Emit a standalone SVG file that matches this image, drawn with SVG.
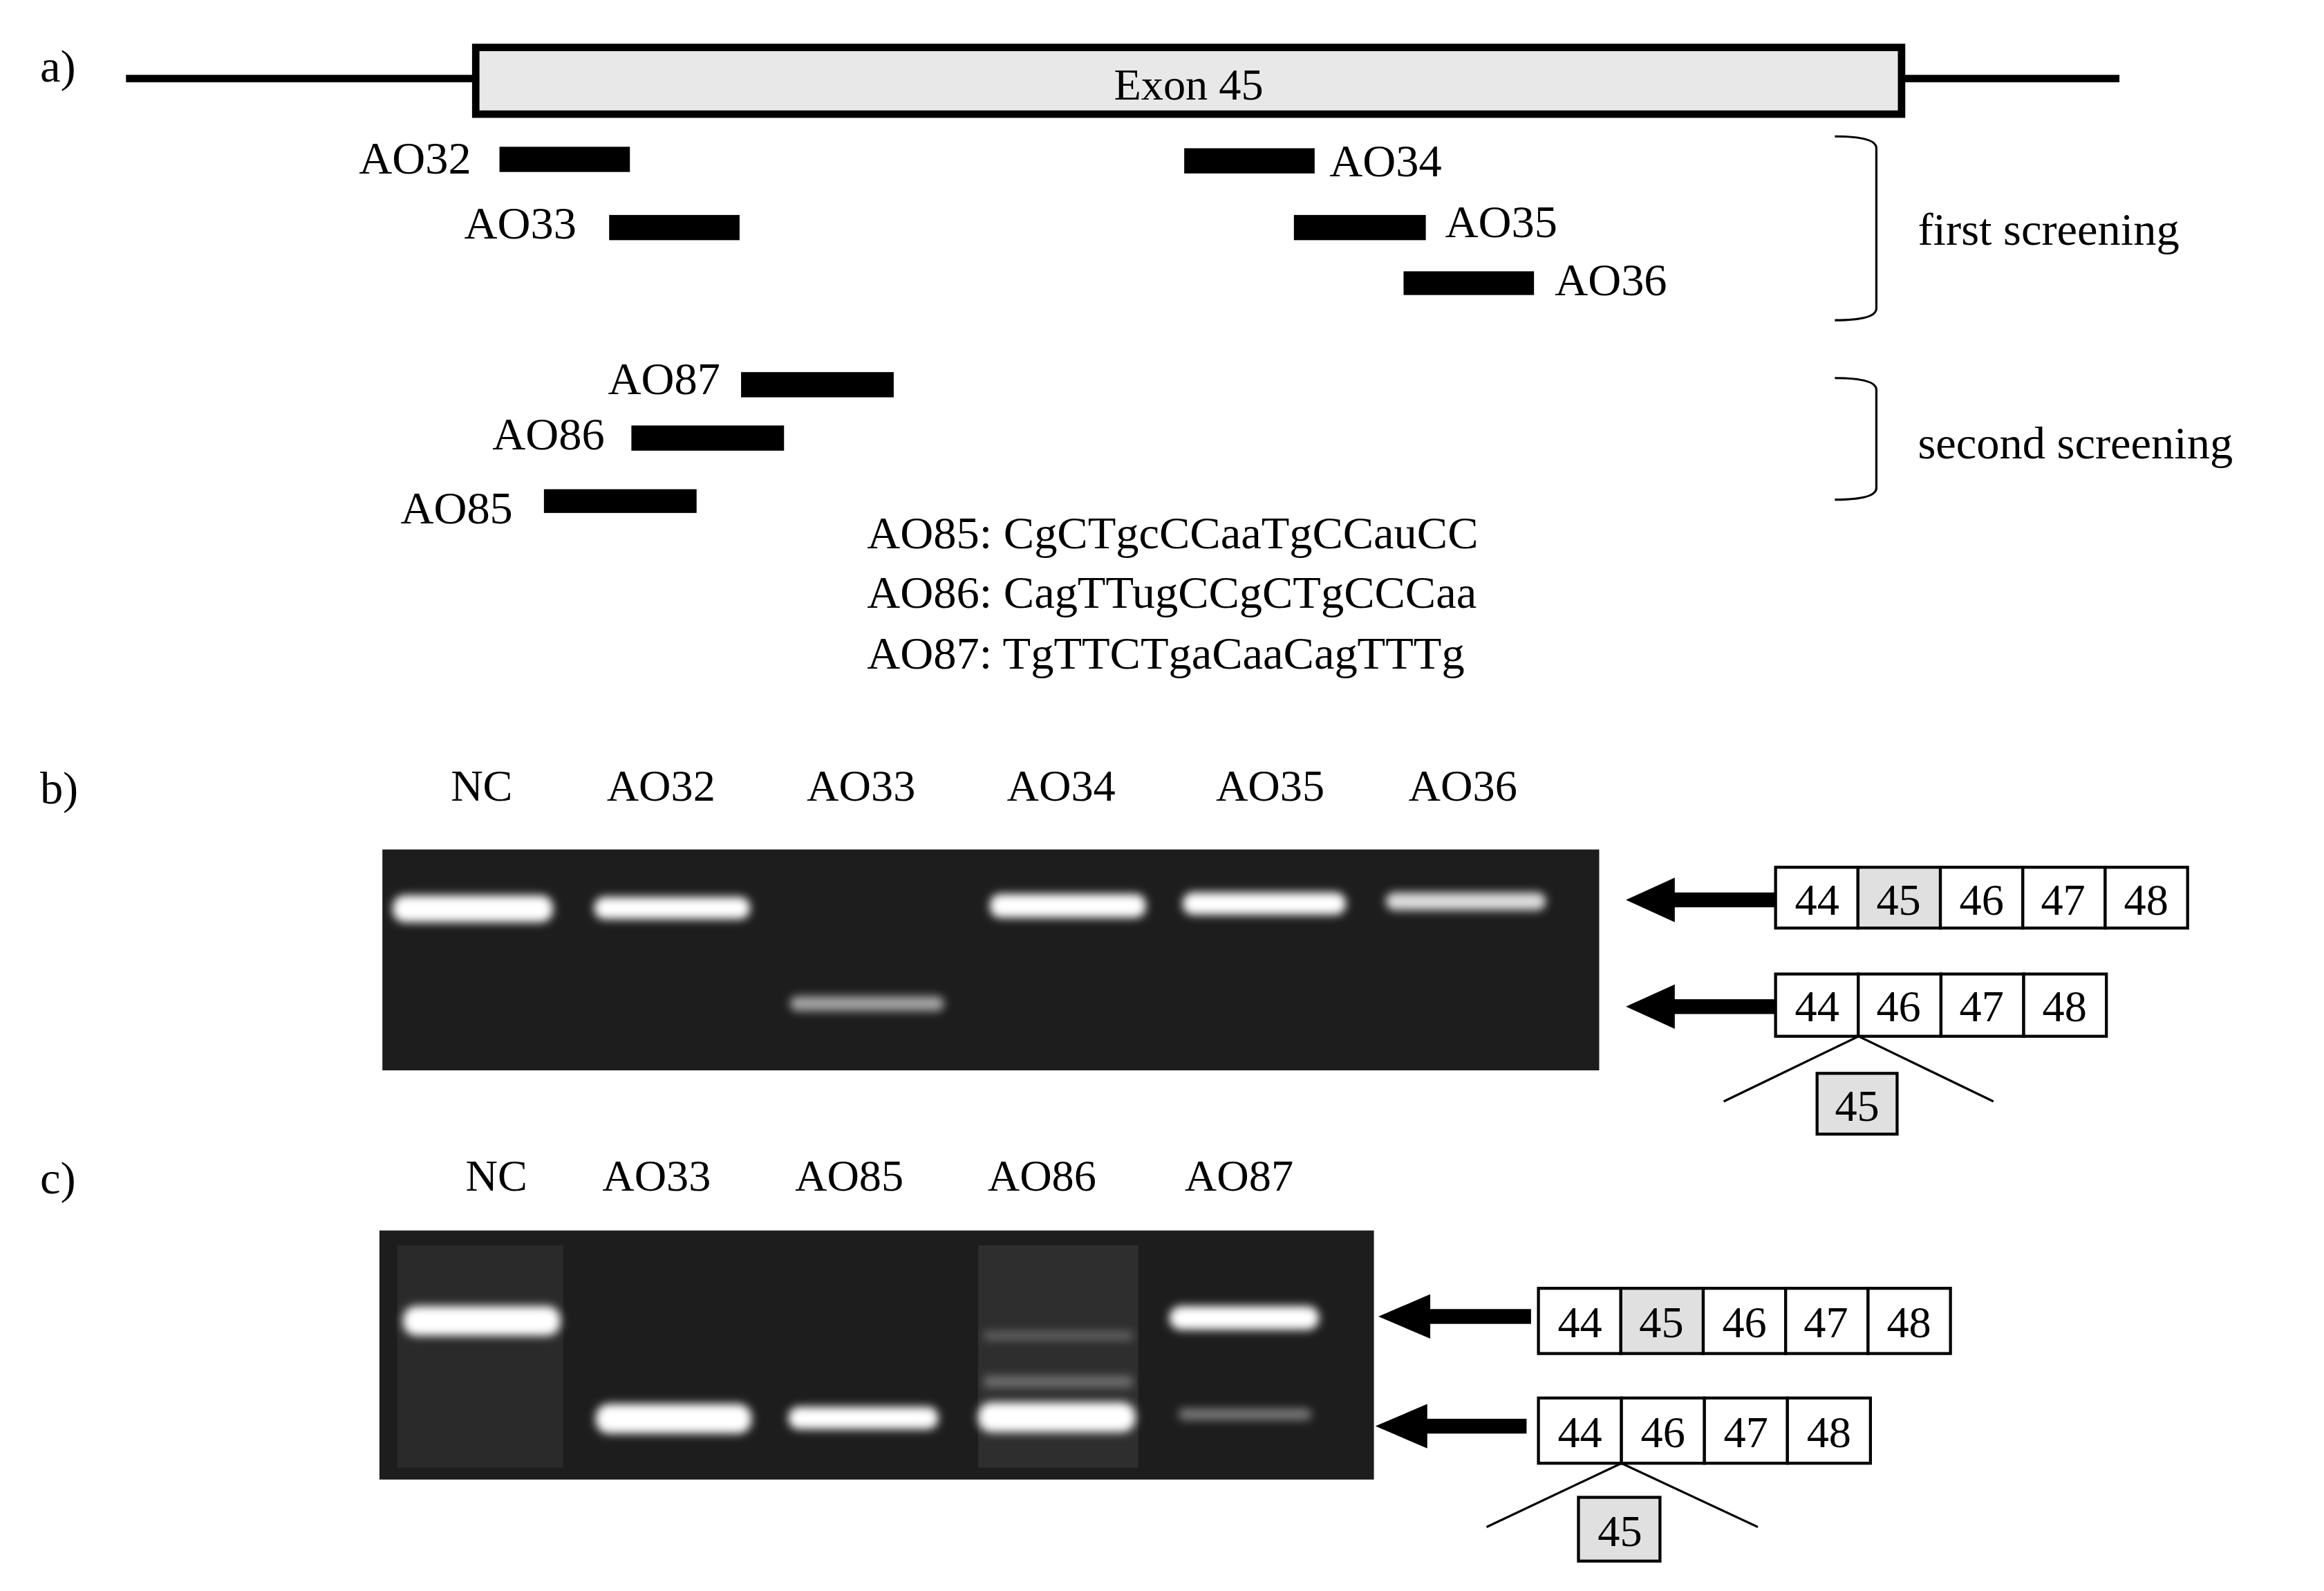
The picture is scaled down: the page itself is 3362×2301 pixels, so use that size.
<svg xmlns="http://www.w3.org/2000/svg" width="3362" height="2301" viewBox="0 0 3362 2301">
<defs>
<style>
text{font-family:"Liberation Serif","DejaVu Serif",serif;fill:#000}
.t{font-size:31px}
.e{font-size:30px}
.bar{fill:#000}
.cell{fill:#fff;stroke:#000;stroke-width:2}
.g{fill:#e0e0e0;stroke:#000;stroke-width:2}
.n{font-size:30px;text-anchor:middle}
.band{fill:#fff;filter:url(#blur)}
.ln{stroke:#000;stroke-width:1.5;fill:none}
.ar{fill:#000}
</style>
<filter id="blur" x="-20%" y="-100%" width="140%" height="300%"><feGaussianBlur stdDeviation="3"/></filter>
<filter id="blur2" x="-20%" y="-100%" width="140%" height="300%"><feGaussianBlur stdDeviation="6"/></filter>
</defs>
<rect width="3362" height="2301" fill="#fff"/>
<g transform="scale(2.1441)">
<g id="panel-a">
<text x="27" y="55" class="t">a)</text>
<line x1="85" y1="53" x2="1430" y2="53" stroke="#000" stroke-width="5"/>
<g id="exon45"><rect x="321" y="32" width="962" height="45" fill="#e8e8e8" stroke="#000" stroke-width="5"/>
<text x="802" y="67" class="e" text-anchor="middle">Exon 45</text></g>
<g id="AO32"><rect class="bar" x="337" y="99" width="88" height="17"/><text x="318" y="117" class="t" text-anchor="end">AO32</text></g>
<g id="AO34"><rect class="bar" x="799" y="100" width="88" height="17"/><text x="897" y="119" class="t">AO34</text></g>
<g id="AO33"><rect class="bar" x="411" y="145" width="88" height="17"/><text x="389" y="161" class="t" text-anchor="end">AO33</text></g>
<g id="AO35"><rect class="bar" x="873" y="145" width="89" height="17"/><text x="975" y="160" class="t">AO35</text></g>
<g id="AO36"><rect class="bar" x="947" y="183" width="88" height="16"/><text x="1049" y="199" class="t">AO36</text></g>
<g id="AO87"><rect class="bar" x="500" y="251" width="103" height="17"/><text x="486" y="266" class="t" text-anchor="end">AO87</text></g>
<g id="AO86"><rect class="bar" x="426" y="287" width="103" height="17"/><text x="408" y="303" class="t" text-anchor="end">AO86</text></g>
<g id="AO85"><rect class="bar" x="367" y="330" width="103" height="16"/><text x="346" y="353" class="t" text-anchor="end">AO85</text></g>
<path d="M1238,92 Q1266,92 1266,100 V208 Q1266,216 1238,216" class="ln" stroke-width="2"/>
<text x="1294" y="165" class="t">first screening</text>
<path d="M1238,255 Q1266,255 1266,263 V329 Q1266,337 1238,337" class="ln" stroke-width="2"/>
<text x="1294" y="309" class="t">second screening</text>
<text x="585" y="370" class="t">AO85: CgCTgcCCaaTgCCauCC</text>
<text x="585" y="410" class="t">AO86: CagTTugCCgCTgCCCaa</text>
<text x="585" y="451" class="t">AO87: TgTTCTgaCaaCagTTTg</text>
</g>
<g id="panel-b">
<text x="27" y="542" class="t">b)</text>
<g class="n">
<text x="325" y="540" class="n">NC</text><text x="446" y="540" class="n">AO32</text><text x="581" y="540" class="n">AO33</text>
<text x="716" y="540" class="n">AO34</text><text x="857" y="540" class="n">AO35</text><text x="987" y="540" class="n">AO36</text></g>
<rect x="258" y="573" width="821" height="149" fill="#1d1d1d"/>
<rect x="265" y="604" width="108" height="18" rx="8" class="band"/>
<rect x="401" y="605" width="105" height="15" rx="7" class="band"/>
<rect x="668" y="603" width="105" height="16" rx="7" class="band"/>
<rect x="798" y="602" width="110" height="15" rx="7" class="band"/>
<rect x="935" y="602" width="108" height="12" rx="6" class="band" opacity="0.85"/>
<rect x="533" y="672" width="104" height="10" rx="5" class="band" opacity="0.6"/>
<g id="b-arrows">
<rect x="1125" y="602" width="73" height="10" class="ar"/><polygon points="1097,607 1130,592 1130,622" class="ar"/>
<rect x="1125" y="674" width="73" height="10" class="ar"/><polygon points="1097,679 1130,664 1130,694" class="ar"/>
</g>
<g id="b-full">
<rect x="1198" y="585" width="55.6" height="41" class="cell"/><rect x="1253.6" y="585" width="55.6" height="41" class="g"/>
<rect x="1309.2" y="585" width="55.6" height="41" class="cell"/><rect x="1364.8" y="585" width="55.6" height="41" class="cell"/><rect x="1420.4" y="585" width="55.6" height="41" class="cell"/>
<text x="1226" y="617" class="n">44</text><text x="1281" y="617" class="n">45</text><text x="1337" y="617" class="n">46</text><text x="1392" y="617" class="n">47</text><text x="1448" y="617" class="n">48</text>
</g>
<g id="b-skip">
<rect x="1198" y="657" width="55.8" height="42" class="cell"/><rect x="1253.8" y="657" width="55.8" height="42" class="cell"/>
<rect x="1309.6" y="657" width="55.8" height="42" class="cell"/><rect x="1365.4" y="657" width="55.8" height="42" class="cell"/>
<text x="1226" y="689" class="n">44</text><text x="1281" y="689" class="n">46</text><text x="1337" y="689" class="n">47</text><text x="1393" y="689" class="n">48</text>
<path d="M1163,743 L1254,699 L1345,743" class="ln"/>
<rect x="1226" y="724" width="54" height="41" class="g"/><text x="1253" y="756" class="n">45</text>
</g>
</g>
<g id="panel-c">
<text x="27" y="805" class="t">c)</text>
<text x="335" y="803" class="n">NC</text><text x="443" y="803" class="n">AO33</text><text x="573" y="803" class="n">AO85</text>
<text x="703" y="803" class="n">AO86</text><text x="836" y="803" class="n">AO87</text>
<rect x="256" y="830" width="671" height="168" fill="#1d1d1d"/>
<rect x="268" y="840" width="112" height="150" fill="#2a2a2a"/>
<rect x="660" y="840" width="108" height="150" fill="#2e2e2e"/>
<rect x="664" y="898" width="100" height="6" class="band" opacity="0.25"/>
<rect x="664" y="928" width="100" height="8" class="band" opacity="0.3"/>
<rect x="272" y="881" width="106" height="20" rx="9" class="band"/>
<rect x="789" y="881" width="101" height="16" rx="8" class="band"/>
<rect x="402" y="947" width="105" height="20" rx="9" class="band"/>
<rect x="532" y="949" width="101" height="15" rx="7" class="band"/>
<rect x="660" y="946" width="106" height="20" rx="9" class="band"/>
<rect x="795" y="950" width="90" height="8" rx="4" class="band" opacity="0.4"/>
<g id="c-arrows">
<rect x="960" y="883" width="73" height="10" class="ar"/><polygon points="930,888 965,873 965,903" class="ar"/>
<rect x="958" y="957" width="72" height="10" class="ar"/><polygon points="928,962 963,947 963,977" class="ar"/>
</g>
<g id="c-full">
<rect x="1038" y="869" width="55.6" height="44" class="cell"/><rect x="1093.6" y="869" width="55.6" height="44" class="g"/>
<rect x="1149.2" y="869" width="55.6" height="44" class="cell"/><rect x="1204.8" y="869" width="55.6" height="44" class="cell"/><rect x="1260.4" y="869" width="55.6" height="44" class="cell"/>
<text x="1066" y="902" class="n">44</text><text x="1121" y="902" class="n">45</text><text x="1177" y="902" class="n">46</text><text x="1232" y="902" class="n">47</text><text x="1288" y="902" class="n">48</text>
</g>
<g id="c-skip">
<rect x="1038" y="943" width="56" height="44" class="cell"/><rect x="1094" y="943" width="56" height="44" class="cell"/>
<rect x="1150" y="943" width="56" height="44" class="cell"/><rect x="1206" y="943" width="56" height="44" class="cell"/>
<text x="1066" y="976" class="n">44</text><text x="1122" y="976" class="n">46</text><text x="1178" y="976" class="n">47</text><text x="1234" y="976" class="n">48</text>
<path d="M1003,1030 L1094,987 L1186,1030" class="ln"/>
<rect x="1065" y="1010" width="55" height="43" class="g"/><text x="1093" y="1043" class="n">45</text>
</g>
</g>
</g>
</svg>
